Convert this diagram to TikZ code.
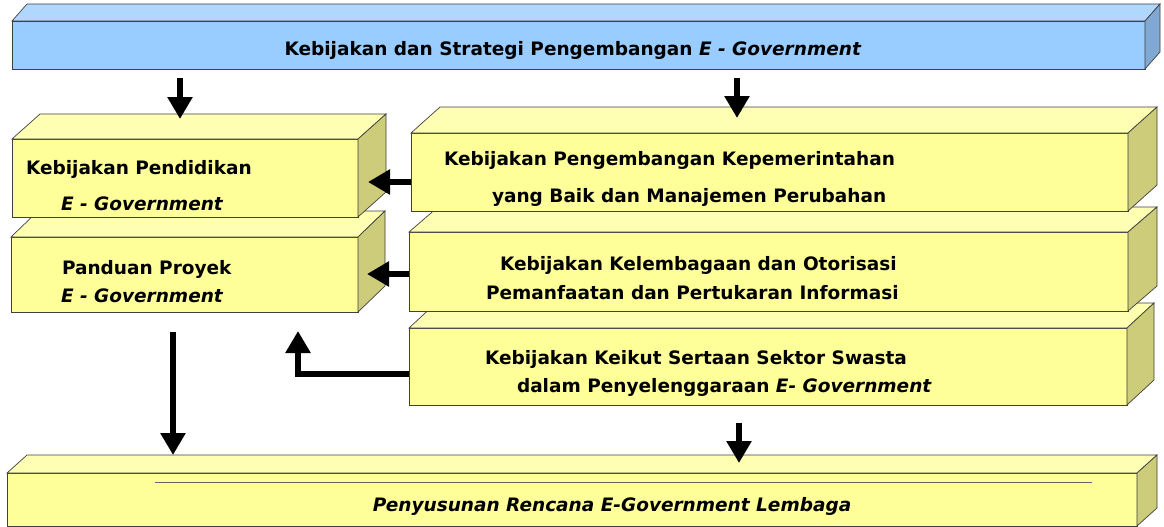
\documentclass[tikz,border=0pt]{standalone}
\usepackage{fontspec}
\setmainfont{DejaVu Sans}
\usetikzlibrary{arrows.meta,calc}

\definecolor{bluefront}{HTML}{99CCFF}
\definecolor{bluetop}{HTML}{B0D8FF}
\definecolor{blueside}{HTML}{7FA8D2}
\definecolor{yelfront}{HTML}{FFFF99}
\definecolor{yeltop}{HTML}{FFFFB3}
\definecolor{yelside}{HTML}{CCCC7A}

\begin{document}
\begin{tikzpicture}
  [x=1pt,y=-1pt,
   every node/.style={inner sep=0pt,outer sep=0pt},
   face/.style={draw=black!75,line width=0.7pt},
   txt/.style={anchor=base west,font=\bfseries\fontsize{18.5}{22}\selectfont},
   arr/.style={line width=6.5pt,-{Triangle[width=24pt,length=22pt]}}]
  \useasboundingbox (0,0) rectangle (1164,527);

  % boxes, back to front: name/centre/size/depth/colour
  \foreach \n/\cx/\cy/\w/\h/\dx/\dy/\col in
    {rencana/572/499.5/1130/53/20/18/yel,
     swasta/768/366.5/718/77/27/25/yel,
     lembaga/768.5/271.5/719/79/29/25/yel,
     kepem/769.5/172/717/78/29/26/yel,
     panduan/184.5/274.5/347/75/27/26/yel,
     pendidikan/185/178/346/78/28/25/yel,
     strategi/578.5/45/1133/48/15/17/blue}
  {
    \node (\n) [face,fill=\col front,minimum width=\w pt,minimum height=\h pt] at (\cx,\cy) {};
    \draw[face,fill=\col top] (\n.north west) -- ++(\dx,-\dy)
      -- ($(\n.north east)+(\dx,-\dy)$) -- (\n.north east) -- cycle;
    \draw[face,fill=\col side] (\n.north east) -- ++(\dx,-\dy)
      -- ($(\n.south east)+(\dx,-\dy)$) -- (\n.south east) -- cycle;
  }
  \draw[black!60,line width=0.7pt] ($(rencana.north west)+(148,9)$) -- ($(rencana.north west)+(1085,9)$);

  % texts
  \node (t0) [txt,anchor=base] at (573,56) {Kebijakan dan Strategi Pengembangan \textit{E - Government}};
  \node (t1) [txt] at (26,174)  {Kebijakan Pendidikan};
  \node (t2) [txt] at (61,210)  {\textit{E - Government}};
  \node (t3) [txt] at (62,274)  {Panduan Proyek};
  \node (t4) [txt] at (61,302)  {\textit{E - Government}};
  \node (t5) [txt] at (444,165) {Kebijakan Pengembangan Kepemerintahan};
  \node (t6) [txt] at (492,202) {yang Baik dan Manajemen Perubahan};
  \node (t7) [txt] at (500,270) {Kebijakan Kelembagaan dan Otorisasi};
  \node (t8) [txt] at (486,299) {Pemanfaatan dan Pertukaran Informasi};
  \node (t9) [txt] at (485,364) {Kebijakan Keikut Sertaan Sektor Swasta};
  \node (t10)[txt] at (517,392) {dalam Penyelenggaraan \textit{E- Government}};
  \node (t11)[txt,anchor=base,font=\bfseries\itshape\fontsize{18.5}{22}\selectfont] at (612,511) {Penyusunan Rencana E-Government Lembaga};

  % arrows
  \draw[arr] ([xshift=-5pt,yshift=-9pt]strategi.south -| pendidikan.north) -- ([xshift=-5pt,yshift=20pt]pendidikan.north);
  \draw[arr] ([xshift=-32.5pt,yshift=-9pt]strategi.south -| kepem.north) -- ([xshift=-32.5pt,yshift=15pt]kepem.north);
  \draw[arr] ([yshift=-10pt]kepem.west) -- ([xshift=10pt,yshift=-10pt]kepem.west -| pendidikan.east);
  \draw[arr] ([yshift=-2.5pt]lembaga.west) -- ([xshift=9pt,yshift=-2.5pt]lembaga.west -| panduan.east);
  \draw[arr,line width=6pt] ([yshift=-7.5pt]swasta.west) -| ([xshift=-60pt,yshift=-19pt]panduan.south east);
  \draw[arr,line width=6pt] ([xshift=-11.5pt,yshift=-20pt]panduan.south) -- ([xshift=-11.5pt,yshift=18pt]rencana.north -| panduan.south);
  \draw[arr] ([xshift=-29pt,yshift=-18pt]swasta.south) -- ([xshift=-29pt,yshift=10pt]rencana.north -| swasta.south);
\end{tikzpicture}
\end{document}
